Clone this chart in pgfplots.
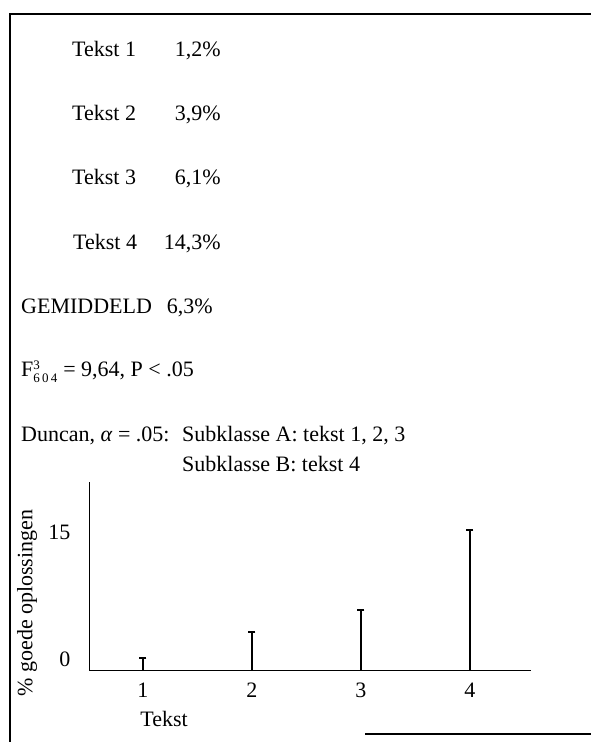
\documentclass[border=0pt]{standalone}
\usepackage{pgfplots}
\pgfplotsset{compat=1.18}
\usepackage{fontspec}
\setmainfont{Liberation Serif}
\newcommand{\bigfont}{\fontsize{22}{26}\selectfont}
\begin{document}
\begin{tikzpicture}[x=1pt,y=1pt,font=\bigfont]
\useasboundingbox (0,0) rectangle (591,742);
% frame of the scanned page
\draw[line width=1.8pt] (10,0) -- (10,728) -- (591,728);
\draw[line width=1.8pt] (365,8) -- (591,8);
% text block
\begin{scope}[every node/.style={inner sep=0pt,font=\bigfont}]
\node[anchor=base west] at (72,685) {Tekst 1};
\node[anchor=base east] at (221,685) {1,2\%};
\node[anchor=base west] at (72,621) {Tekst 2};
\node[anchor=base east] at (221,621) {3,9\%};
\node[anchor=base west] at (72,557) {Tekst 3};
\node[anchor=base east] at (221,557) {6,1\%};
\node[anchor=base west] at (73,492) {Tekst 4};
\node[anchor=base east] at (221,492) {14,3\%};
\node[anchor=base west] at (21,428) {GEMIDDELD};
\node[anchor=base east] at (213,428) {6,3\%};
\node[anchor=base west] at (21,365) {F$^{\mbox{\fontsize{13}{13}\selectfont 3}}_{\mbox{\fontsize{13}{13}\selectfont 6\,0\,4}}$ = 9,64, P < .05};
\node[anchor=base west] at (21,300) {Duncan, \textit{α} = .05:};
\node[anchor=base west] at (182,300) {Subklasse A: tekst 1, 2, 3};
\node[anchor=base west] at (182,270) {Subklasse B: tekst 4};
\end{scope}
\begin{axis}[
  at={(89pt,72pt)}, anchor=south west,
  scale only axis, width=442pt, height=188pt,
  xmin=0.505, xmax=4.56, ymin=0, ymax=19.2,
  axis lines=left, axis line style={-, line width=1pt},
  xtick={1,2,3,4}, ytick={15}, extra y ticks={0},
  major tick length=0pt, tick style={draw=none},
  /pgf/number format/assume math mode=true,
  tick label style={font=\bigfont},
  label style={font=\bigfont},
  xticklabel style={yshift=-9pt},
  yticklabel style={xshift=-15pt, yshift=-9pt},
  extra y tick style={yticklabel style={yshift=20pt}},
  xlabel={Tekst}, ylabel={\% goede oplossingen},
  xlabel style={at={(axis description cs:0.17,0)}, anchor=north, yshift=-38pt},
  ylabel style={at={(axis description cs:-0.140,0.356)}, anchor=center},
  clip=false,
]
\addplot[ycomb, black, line width=1.4pt, mark=-, mark size=3.5pt,
  mark options={solid, black, line width=1.6pt}]
  coordinates {(1,1.2) (2,3.9) (3,6.1) (4,14.3)};
\end{axis}
\end{tikzpicture}
\end{document}
